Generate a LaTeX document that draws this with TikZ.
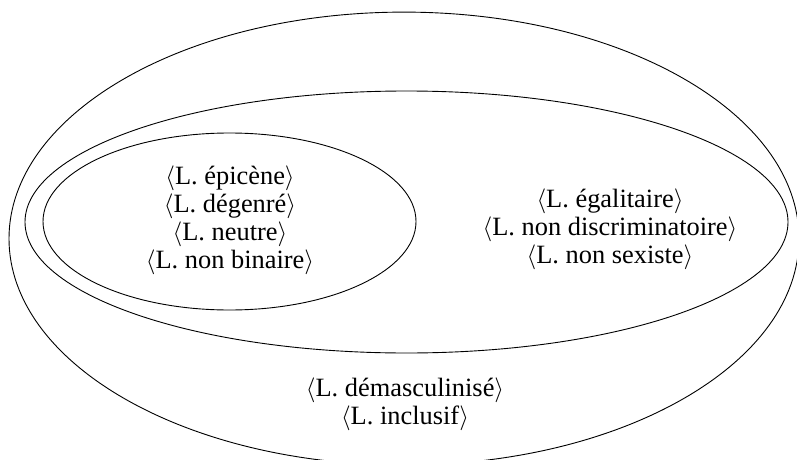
\documentclass[tikz,border=0pt]{standalone}
\usepackage{fontspec}
\setmainfont{Liberation Serif}
\newfontfamily\timesfam{Liberation Serif}
\usetikzlibrary{shapes.geometric}
\tikzset{
  ring/.style={ellipse, draw=black, line width=0.9pt, inner sep=0pt},
  label/.style={align=center, inner sep=0pt, font=\timesfam\fontsize{26.4}{28}\selectfont}
}
\newcommand{\Lg}[1]{$\langle$L.~#1$\rangle$}
\begin{document}
\begin{tikzpicture}[x=1pt,y=-1pt]
\useasboundingbox (0,0) rectangle (797,460);
\clip (0,0) rectangle (797,460);
\node[ring, minimum width=790pt, minimum height=453pt] (outer) at (404,238.6) {};
\node[ring, minimum width=763pt, minimum height=262pt] (middle) at (406.5,222) {};
\node[ring, minimum width=373pt, minimum height=177pt] (inner) at (229.5,221.5) {};
\node[label] (t1) at (230,220) {\Lg{épicène}\\ \Lg{dégenré}\\ \Lg{neutre}\\ \Lg{non binaire}};
\node[label] (t2) at (610,229) {\Lg{égalitaire}\\ \Lg{non discriminatoire}\\ \Lg{non sexiste}};
\node[label] (t3) at (405,404) {\Lg{démasculinisé}\\ \Lg{inclusif}};
\end{tikzpicture}
\end{document}
